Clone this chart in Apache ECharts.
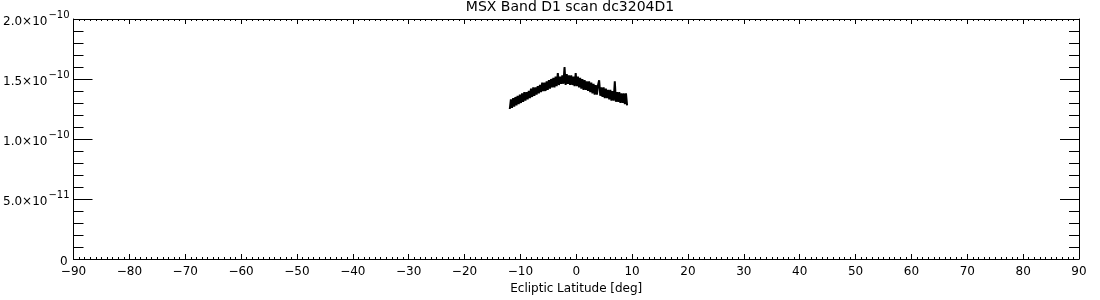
<!DOCTYPE html>
<html>
<head>
<meta charset="utf-8">
<script src="https://cdn.jsdelivr.net/npm/echarts@6/dist/echarts.min.js"></script>
<style>
html,body{margin:0;padding:0;background:#fff;}
#chart{width:1100px;height:300px;}
</style>
</head>
<body>
<div id="chart"></div>
<script>
// Ecliptic latitude (deg) of each sample
const latitude = [
  -11.9,-11.7,-11.5,-11.3,-11.1,-10.9,-10.7,-10.5,-10.3,-10.1,
  -9.9,-9.7,-9.5,-9.3,-9.1,-8.9,-8.7,-8.5,-8.3,-8.1,
  -7.9,-7.7,-7.5,-7.3,-7.1,-6.9,-6.7,-6.5,-6.3,-6.1,
  -5.9,-5.7,-5.5,-5.3,-5.1,-4.9,-4.7,-4.5,-4.3,-4.1,
  -3.9,-3.7,-3.5,-3.3,-3.1,-2.9,-2.7,-2.5,-2.3,-2.1,
  -1.9,-1.7,-1.5,-1.3,-1.1,-0.9,-0.7,-0.5,-0.3,-0.1,
  0.1,0.3,0.5,0.7,0.9,1.1,1.3,1.5,1.7,1.9,
  2.1,2.3,2.5,2.7,2.9,3.1,3.3,3.5,3.7,3.9,
  4.1,4.3,4.5,4.7,4.9,5.1,5.3,5.5,5.7,5.9,
  6.1,6.3,6.5,6.7,6.9,7.1,7.3,7.5,7.7,7.9,
  8.1,8.3,8.5,8.7,8.9,9.1
];
// MSX Band D1 flux, in units of 1e-10
const fluxE10 = [
  1.25,1.33,1.26,1.34,1.27,1.35,1.28,1.36,1.29,1.37,
  1.30,1.38,1.31,1.39,1.32,1.39,1.33,1.40,1.34,1.42,
  1.35,1.43,1.36,1.43,1.37,1.44,1.38,1.45,1.39,1.47,
  1.40,1.47,1.40,1.48,1.41,1.49,1.42,1.50,1.43,1.51,
  1.43,1.52,1.44,1.55,1.45,1.52,1.46,1.53,1.46,1.60,
  1.45,1.54,1.46,1.53,1.45,1.53,1.45,1.52,1.44,1.55,
  1.44,1.52,1.43,1.51,1.42,1.50,1.41,1.49,1.41,1.48,
  1.40,1.48,1.39,1.47,1.38,1.46,1.37,1.45,1.37,1.45,
  1.49,1.36,1.43,1.35,1.43,1.34,1.42,1.34,1.41,1.33,
  1.41,1.32,1.40,1.32,1.48,1.31,1.39,1.31,1.39,1.30,
  1.38,1.30,1.38,1.29,1.38,1.28
];
const yTickLabels = {
  '0': ['0', ''],
  '0.5': ['5.0\u00d710', '\u221211'],
  '1': ['1.0\u00d710', '\u221210'],
  '1.5': ['1.5\u00d710', '\u221210'],
  '2': ['2.0\u00d710', '\u221210']
};
const titleText = 'MSX Band D1 scan dc3204D1';
const xName = 'Ecliptic Latitude [deg]';

const FONT = 'DejaVu Sans';
const chart = echarts.init(document.getElementById('chart'), null, {renderer: 'canvas'});
const data = latitude.map((x, i) => [x, fluxE10[i]]);

const axisCommon = {
  axisLine: {show: true, onZero: false, lineStyle: {color: '#000', width: 1}},
  splitLine: {show: false}
};

chart.setOption({
  animation: false,
  backgroundColor: '#fff',
  title: {
    text: titleText,
    left: 570, top: 0, padding: 0, textAlign: 'center',
    textStyle: {fontFamily: FONT, fontSize: 14, fontWeight: 'normal', color: '#000'}
  },
  grid: {left: 71, right: 21, top: 19, bottom: 41, containLabel: false},
  xAxis: [
    Object.assign({
      type: 'value', min: -90, max: 90, interval: 10, position: 'bottom',
      name: xName, nameLocation: 'middle', nameGap: 20,
      nameTextStyle: {fontFamily: FONT, fontSize: 12, color: '#000', verticalAlign: 'top'},
      axisTick: {show: true, inside: true, length: 5, lineStyle: {color: '#000'}},
      minorTick: {show: true, splitNumber: 10, length: 2, lineStyle: {color: '#000'}},
      axisLabel: {
        margin: 7, fontFamily: FONT, fontSize: 12, color: '#000',
        formatter: v => (v < 0 ? '\u2212' + Math.abs(v) : String(v))
      }
    }, axisCommon),
    Object.assign({
      type: 'value', min: -90, max: 90, interval: 10, position: 'top',
      axisTick: {show: true, inside: true, length: 5, lineStyle: {color: '#000'}},
      minorTick: {show: true, splitNumber: 10, length: 2, lineStyle: {color: '#000'}},
      axisLabel: {show: false}
    }, axisCommon)
  ],
  yAxis: [
    Object.assign({
      type: 'value', min: 0, max: 2, interval: 0.5, position: 'left',
      axisTick: {show: true, inside: true, length: 19, lineStyle: {color: '#000'}},
      minorTick: {show: true, splitNumber: 5, length: 10, lineStyle: {color: '#000'}},
      axisLabel: {
        margin: 4,
        formatter: v => {
          const p = yTickLabels[String(v)];
          if (!p) return '';
          if (!p[1]) return '{z|' + p[0] + '}';
          return '{m|' + p[0] + '}{s|' + p[1] + '}';
        },
        rich: {
          z: {fontFamily: FONT, fontSize: 12, color: '#000', verticalAlign: 'bottom', lineHeight: 18, padding: [0, 2, 0, 0]},
          m: {fontFamily: FONT, fontSize: 12, color: '#000', verticalAlign: 'bottom', lineHeight: 12},
          s: {fontFamily: FONT, fontSize: 10, color: '#000', verticalAlign: 'top', lineHeight: 18, padding: [0, 0, 0, 1]}
        }
      }
    }, axisCommon),
    Object.assign({
      type: 'value', min: 0, max: 2, interval: 0.5, position: 'right',
      axisTick: {show: true, inside: true, length: 19, lineStyle: {color: '#000'}},
      minorTick: {show: true, splitNumber: 5, length: 10, lineStyle: {color: '#000'}},
      axisLabel: {show: false}
    }, axisCommon)
  ],
  series: [{
    type: 'line',
    xAxisIndex: 0, yAxisIndex: 0,
    data: data,
    showSymbol: false,
    symbol: 'none',
    lineStyle: {color: '#000', width: 2},
    silent: true
  }]
});
</script>
</body>
</html>
